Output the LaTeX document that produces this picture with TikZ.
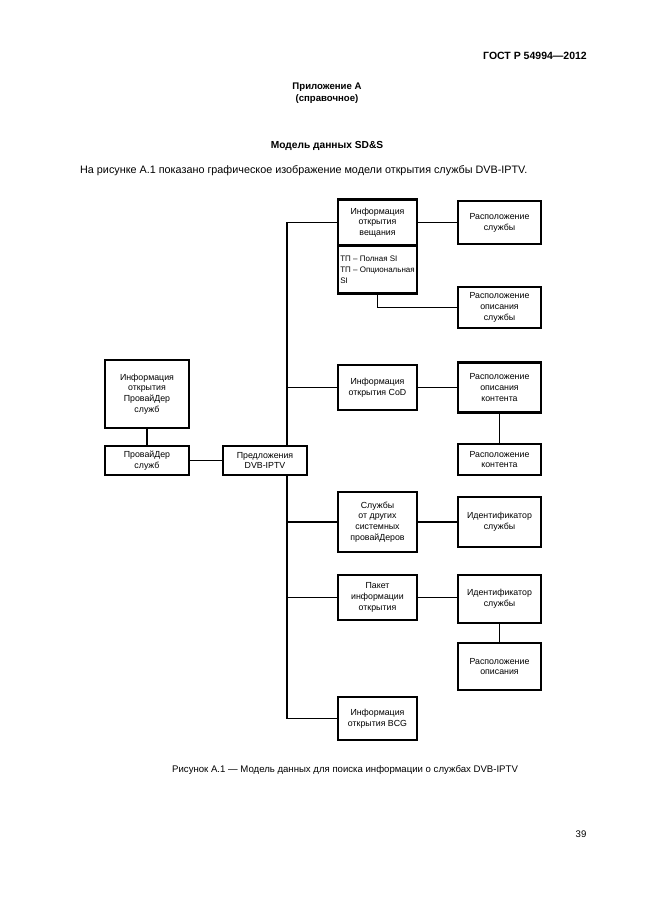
\documentclass[tikz,border=0pt]{standalone}
\usepackage{fontspec}
\setmainfont{Liberation Sans}
\usepackage{tikz}
\tikzset{
    heavy/.style={draw=black, line width=2.4pt, fill=white, align=center,
        inner sep=1pt, font=\fontsize{8.8}{10.8}\selectfont},
    light/.style={draw=black, line width=1.2pt, fill=white, align=center,
        inner sep=1pt, font=\fontsize{8.8}{10.8}\selectfont},
    wire/.style={draw=black, line width=1.3pt},
    pagetext/.style={inner sep=0pt, font=\fontsize{9.6}{11.5}\selectfont}
}

\begin{document}
\begin{tikzpicture}[x=1pt, y=-1pt]
\useasboundingbox[fill=white] (0,0) rectangle (646,913);

% page texts
\node[pagetext, anchor=east, font=\fontsize{10.5}{12}\selectfont\bfseries] (gost) at (587,56) {ГОСТ Р 54994---2012};
\node[pagetext, align=center, font=\fontsize{9.6}{12}\selectfont\bfseries] (annex) at (327,93) {Приложение А\\(справочное)};
\node[pagetext, font=\fontsize{10.2}{12}\selectfont\bfseries] (title) at (327,146) {Модель данных SD\&S};
\node[pagetext, anchor=west, font=\fontsize{10.8}{12}\selectfont] (intro) at (80,171) {На рисунке А.1 показано графическое изображение модели открытия службы DVB-IPTV.};

% left column
\node[heavy, minimum width=84, minimum height=68] (spinfo) at (147,394) {Информация\\открытия\\ПровайДер\\служб};
\node[light, minimum width=84, minimum height=29] (sprov) at (147,460.5) {ПровайДер\\служб};
\node[heavy, minimum width=84, minimum height=29] (offer) at (265,460.5) {Предложения\\DVB-IPTV};

% middle column
\node[heavy, minimum width=79, minimum height=46] (bcast) at (377.5,222.5) {Информация\\открытия\\вещания};
\node[heavy, minimum width=79, minimum height=48, align=left, inner sep=1.5pt,
      font=\fontsize{8}{10.8}\selectfont] (tpsi) at (377.5,269.5) {ТП -- Полная SI\\ТП -- Опциональная\\SI};
\node[heavy, minimum width=79, minimum height=45] (cod) at (377.5,387.5) {Информация\\открытия CoD};
\node[heavy, minimum width=79, minimum height=60] (other) at (377.5,522) {Службы\\от других\\системных\\провайДеров};
\node[heavy, minimum width=79, minimum height=45] (pkg) at (377.5,597.5) {Пакет\\информации\\открытия};
\node[heavy, minimum width=79, minimum height=43] (bcg) at (377.5,718.5) {Информация\\открытия BCG};

% right column
\node[heavy, minimum width=83, minimum height=43] (svcloc) at (499.5,222.5) {Расположение\\службы};
\node[light, minimum width=83, minimum height=41] (svcdesc) at (499.5,307.5) {Расположение\\описания\\службы};
\node[heavy, minimum width=83, minimum height=50] (cdesc) at (499.5,387.5) {Расположение\\описания\\контента};
\node[light, minimum width=83, minimum height=31] (cloc) at (499.5,459.5) {Расположение\\контента};
\node[light, minimum width=83, minimum height=50] (sid1) at (499.5,522) {Идентификатор\\службы};
\node[light, minimum width=83, minimum height=48] (sid2) at (499.5,599) {Идентификатор\\службы};
\node[light, minimum width=83, minimum height=47] (desc) at (499.5,666.5) {Расположение\\описания};

% bus
\coordinate (bustop) at (287,222.5);
\coordinate (busbot) at (287,718.5);
\draw[wire] (bcast.west) -- (bustop) -- (offer.north -| bustop);
\draw[wire] (offer.south -| bustop) -- (busbot) -- (bcg.west);
\draw[wire] (cod.west) -- (cod.west -| bustop);
\draw[wire] (other.west) -- (other.west -| bustop);
\draw[wire] (pkg.west) -- (pkg.west -| bustop);

% links
\draw[wire] (spinfo.south) -- (sprov.north);
\draw[wire] (sprov.east) -- (offer.west);
\draw[wire] (bcast.east) -- (svcloc.west);
\draw[wire] (tpsi.south) -- (tpsi.south |- svcdesc.west) -- (svcdesc.west);
\draw[wire] (cod.east) -- (cdesc.west);
\draw[wire] (cdesc.south) -- (cloc.north);
\draw[wire] (other.east) -- (sid1.west);
\draw[wire] (pkg.east) -- (pkg.east -| sid2.west);
\draw[wire] (sid2.south) -- (desc.north);

% caption
\node[pagetext, anchor=west] (caption) at (172,770) {Рисунок А.1 --- Модель данных для поиска информации о службах DVB-IPTV};
\node[pagetext] (pageno) at (581,834) {39};
\end{tikzpicture}
\end{document}
